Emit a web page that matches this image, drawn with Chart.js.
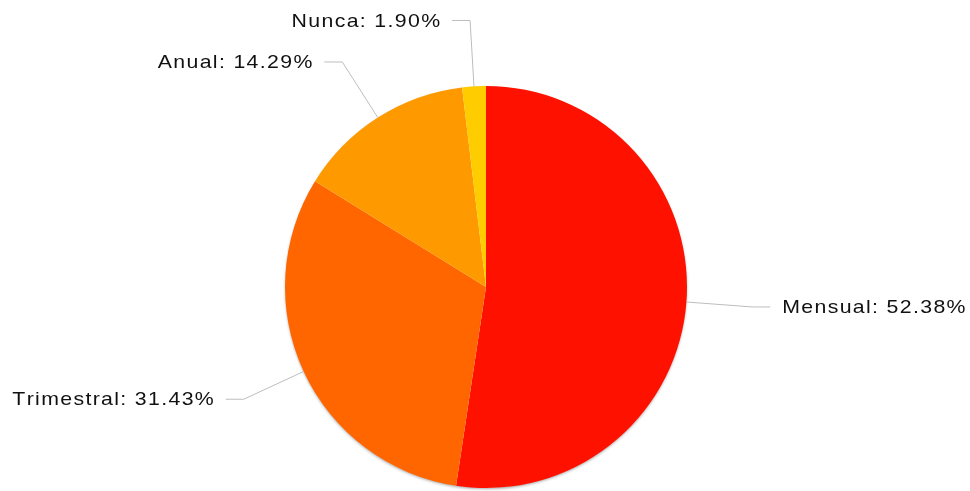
<!DOCTYPE html>
<html>
<head>
<meta charset="utf-8">
<script src="https://cdn.jsdelivr.net/npm/chart.js@4/dist/chart.umd.min.js"></script>
<style>
  html, body { margin: 0; padding: 0; background: #ffffff; }
  #wrap { position: relative; width: 970px; height: 491px; }
</style>
</head>
<body>
<div id="wrap"><canvas id="c" width="970" height="491"></canvas></div>
<script>
const categories = ["Mensual", "Trimestral", "Anual", "Nunca"];
const percentages = [52.38, 31.43, 14.29, 1.90];
const sliceColors = ["#FF1100", "#FF6600", "#FF9900", "#FFCC00"];

const labelFont = '19px "Liberation Sans", Arial, sans-serif';
const letterGap = 1.2;
const stretch = 1.12;

function drawSpaced(ctx, text, x, y, alignRight) {
  const widths = [...text].map(ch => ctx.measureText(ch).width);
  const total = (widths.reduce((a, b) => a + b, 0) + letterGap * (widths.length - 1)) * stretch;
  const startX = alignRight ? x - total : x;
  ctx.save();
  ctx.translate(startX, y);
  ctx.scale(stretch, 1);
  let cx = 0;
  [...text].forEach((ch, i) => {
    ctx.fillText(ch, cx, 0);
    cx += widths[i] + letterGap;
  });
  ctx.restore();
}

const shadowPlugin = {
  id: 'pieShadow',
  beforeDatasetsDraw(chart) {
    const meta = chart.getDatasetMeta(0);
    if (!meta.data.length) return;
    const a = meta.data[0];
    const ctx = chart.ctx;
    ctx.save();
    ctx.beginPath();
    ctx.arc(a.x, a.y, a.outerRadius - 0.5, 0, Math.PI * 2);
    ctx.fillStyle = '#ffffff';
    ctx.shadowColor = 'rgba(0,0,0,0.35)';
    ctx.shadowBlur = 3;
    ctx.shadowOffsetY = 1.5;
    ctx.fill();
    ctx.restore();
  }
};

const leaderPlugin = {
  id: 'leaders',
  afterDatasetsDraw(chart) {
    const ctx = chart.ctx;
    const meta = chart.getDatasetMeta(0);
    ctx.save();
    ctx.font = labelFont;
    ctx.textBaseline = 'middle';
    meta.data.forEach((arc, i) => {
      const p = arc.getProps(['x', 'y', 'startAngle', 'endAngle', 'outerRadius'], true);
      const mid = (p.startAngle + p.endAngle) / 2;
      const cos = Math.cos(mid), sin = Math.sin(mid);
      const ex = p.x + cos * p.outerRadius, ey = p.y + sin * p.outerRadius;
      const er = p.outerRadius + 66;
      const bx = p.x + cos * er, by = p.y + sin * er;
      const right = cos >= 0;
      const hx = right ? bx + 18 : bx - 18;
      ctx.beginPath();
      ctx.strokeStyle = '#bdbdbd';
      ctx.lineWidth = 1;
      ctx.moveTo(ex, ey);
      ctx.lineTo(bx, by);
      ctx.lineTo(hx, by);
      ctx.stroke();
      ctx.fillStyle = '#111111';
      const txt = categories[i] + ': ' + percentages[i].toFixed(2) + '%';
      drawSpaced(ctx, txt, right ? hx + 12 : hx - 12, by + 1, !right);
    });
    ctx.restore();
  }
};

new Chart(document.getElementById('c'), {
  type: 'pie',
  data: {
    labels: categories,
    datasets: [{
      data: percentages,
      backgroundColor: sliceColors,
      borderWidth: 0
    }]
  },
  options: {
    responsive: false,
    animation: false,
    layout: { padding: { top: 86, bottom: 3, left: 200, right: 198 } },
    plugins: {
      legend: { display: false },
      tooltip: { enabled: false }
    }
  },
  plugins: [shadowPlugin, leaderPlugin]
});
</script>
</body>
</html>
